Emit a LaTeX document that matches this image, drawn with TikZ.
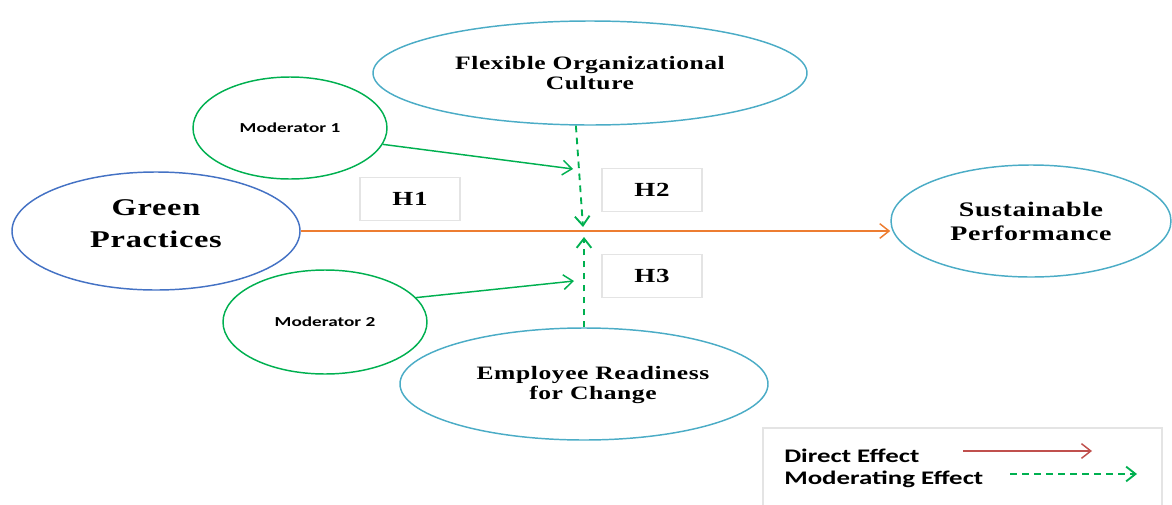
\documentclass[tikz,border=0pt]{standalone}
\usepackage{fontspec}
\setmainfont{Liberation Serif}[FakeStretch=1.35,LetterSpace=3]
\newfontfamily\keyfont{Carlito}[FakeStretch=1.4]
\usetikzlibrary{shapes.geometric,arrows.meta}
\newcommand*{\px}{0.75pt}
\definecolor{gpblue}{HTML}{4472C4}
\definecolor{ovalcyan}{HTML}{4BACC6}
\definecolor{modgreen}{HTML}{00B050}
\definecolor{h1orange}{HTML}{ED7D31}
\definecolor{keyred}{HTML}{C0504D}
\definecolor{boxgray}{HTML}{E4E4E4}

\begin{document}
\begin{tikzpicture}[x=\px,y=-\px,
    oval/.style n args={3}{ellipse,draw=#1,line width=1.1pt,minimum width=#2*\px,
      minimum height=#3*\px,inner sep=0pt,align=center},
    hbox/.style={draw=boxgray,line width=0.8pt,minimum width=100*\px,minimum height=43*\px,
      font=\bfseries\fontsize{15}{18}\selectfont},
    barb/.style={-{Straight Barb[length=7pt,width=11pt]}},
    direct/.style={barb,line width=1.1pt},
    moderating/.style={barb,line width=1.4pt,modgreen,dash pattern=on 5pt off 4pt},
    keytext/.style={anchor=base west,inner sep=0pt,font=\keyfont\bfseries\fontsize{14.4}{16}\selectfont}]
    \useasboundingbox (0,0) rectangle (1172,504);

    % constructs
    \node[oval={gpblue}{288}{118},label={[align=center,yshift=7*\px,
      font=\bfseries\fontsize{18}{24}\selectfont]center:Green\\Practices}] (green) at (156,231) {};
    \node[oval={ovalcyan}{280}{112},font=\bfseries\fontsize{15.5}{18}\selectfont] (sust) at (1031,221) {Sustainable\\Performance};
    \node[oval={ovalcyan}{434}{104},font=\bfseries\fontsize{14.2}{15.5}\selectfont] (culture) at (590,73) {Flexible Organizational\\Culture};
    \node[oval={ovalcyan}{368}{112},label={[align=center,xshift=9*\px,yshift=-1*\px,
      font=\bfseries\fontsize{14.2}{15.5}\selectfont]center:Employee Readiness\\for Change}] (readiness) at (584,384) {};
    \node[oval={modgreen}{194}{102},font=\keyfont\bfseries\fontsize{10.3}{11}\selectfont] (mod1) at (290,128) {Moderator 1};
    \node[oval={modgreen}{204}{104},font=\keyfont\bfseries\fontsize{10.3}{11}\selectfont] (mod2) at (325,322) {Moderator 2};

    % hypotheses
    \node[hbox] (h1) at (410,199) {H1};
    \node[hbox] (h2) at (652,190) {H2};
    \node[hbox] (h3) at (652,276) {H3};

    % paths
    \coordinate (hitTop) at (583,227);
    \coordinate (hitBot) at (584,237);
    \coordinate (hitMod1) at (573,169);
    \coordinate (hitMod2) at (574,281);
    \draw[direct,h1orange] (green.east) -- (green.east -| sust.west);
    \draw[moderating] (culture.255) -- (hitTop);
    \draw[moderating] (readiness.north) -- (hitBot);
    \draw[direct,modgreen] (mod1.-10) -- (hitMod1);
    \draw[direct,modgreen] (mod2.15) -- (hitMod2);

    % key
    \draw[boxgray,line width=0.8pt] (763,428) rectangle (1162,530);
    \node[keytext] (keyDirect) at (784,462) {Direct Effect};
    \node[keytext] (keyMod) at (784,484) {Moderating Effect};
    \coordinate (d1) at (963,451);
    \coordinate (d2) at (1092,451);
    \coordinate (m1) at (1010,474);
    \coordinate (m2) at (1137,474);
    \draw[direct,keyred] (d1) -- (d2);
    \draw[moderating] (m1) -- (m2);
\end{tikzpicture}
\end{document}
